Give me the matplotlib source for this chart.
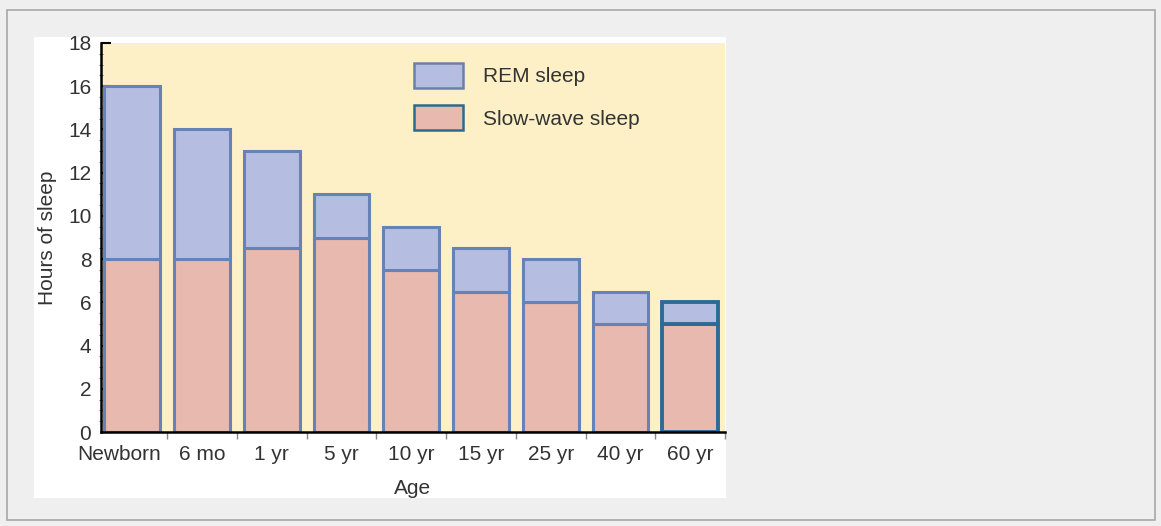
import matplotlib.pyplot as plt
from matplotlib.patches import Rectangle, Patch
from matplotlib.transforms import ScaledTranslation

plt.rcParams['font.family'] = ['Liberation Sans', 'DejaVu Sans']

ages = ['Newborn', '6 mo', '1 yr', '5 yr', '10 yr', '15 yr', '25 yr', '40 yr', '60 yr']
total_sleep = [16, 14, 13, 11, 9.5, 8.5, 8, 6.5, 6]
slow_wave = [8, 8, 8.5, 9, 7.5, 6.5, 6, 5, 5]
rem = [t - s for t, s in zip(total_sleep, slow_wave)]

rem_color = '#b5bee0'
sws_color = '#e8b9ae'
edge = '#6682b6'
edge_dark = '#2c6a98'
bg_yellow = '#fdf0c6'
txt = '#333333'
fs = 15

fig = plt.figure(figsize=(11.61, 5.26), dpi=100)
fig.patch.set_facecolor('#efefef')
# outer border and white panel, kept behind the axes
fig.patches.append(Rectangle((7 / 1161, 1 - 520 / 526), 1148 / 1161, 510 / 526, transform=fig.transFigure,
                             facecolor='none', edgecolor='#a8a8a8', lw=1.2, zorder=-2))
fig.patches.append(Rectangle((34 / 1161, 1 - 498 / 526), 692 / 1161, 461 / 526, transform=fig.transFigure,
                             facecolor='white', edgecolor='none', zorder=-1))

ax = fig.add_axes([101 / 1161, 1 - 432 / 526, 624 / 1161, 389 / 526])
ax.set_facecolor(bg_yellow)

x = list(range(len(ages)))
edges = [edge] * (len(ages) - 1) + [edge_dark]
lws = [2.2] * (len(ages) - 1) + [2.8]
ax.bar(x, slow_wave, width=0.8, color=sws_color, edgecolor=edges, linewidth=lws, zorder=2)
ax.bar(x, rem, bottom=slow_wave, width=0.8, color=rem_color, edgecolor=edges, linewidth=lws, zorder=2)

ax.set_xlim(-0.45, 8.5)
ax.set_ylim(0, 18)
ax.set_xticks(x)
ax.set_xticklabels(ages, fontsize=fs, color=txt)
ax.set_xticks([i + 0.5 for i in x], minor=True)
ax.tick_params(axis='x', which='major', length=0, pad=9)
ax.tick_params(axis='x', which='minor', direction='out', length=5, width=1, color='#888888')
# "Newborn" sits a bit left of its bar, as in the original
lab0 = ax.get_xticklabels()[0]
lab0.set_transform(lab0.get_transform() + ScaledTranslation(-13 / 100, 0, fig.dpi_scale_trans))

ax.set_yticks(range(0, 19, 2))
ax.set_yticks([i * 0.5 for i in range(37)], minor=True)
ax.tick_params(axis='y', which='major', direction='in', length=7, width=1.5, labelsize=fs,
               labelcolor=txt, pad=7)
ax.tick_params(axis='y', which='minor', direction='inout', length=3, width=0.8, color='#777777')

for s in ['top', 'right']:
    ax.spines[s].set_visible(False)
ax.spines['left'].set_linewidth(1.8)
ax.spines['bottom'].set_linewidth(1.8)

ax.set_xlabel('Age', fontsize=fs, color=txt, labelpad=11)
ax.set_ylabel('Hours of sleep', fontsize=fs, color=txt, labelpad=8)

handles = [Patch(facecolor=rem_color, edgecolor='#6b80a8', linewidth=1.8),
           Patch(facecolor=sws_color, edgecolor='#2e6a90', linewidth=1.8)]
ax.legend(handles, ['REM sleep', 'Slow-wave sleep'], loc='upper left',
          bbox_to_anchor=((414 - 101) / 624, (432 - 63) / 389), frameon=False,
          fontsize=fs, handlelength=2.35, handleheight=1.45, labelspacing=0.85,
          handletextpad=0.95, borderaxespad=0, borderpad=0, labelcolor=txt)

fig.savefig('out.png', dpi=100, facecolor=fig.get_facecolor())
